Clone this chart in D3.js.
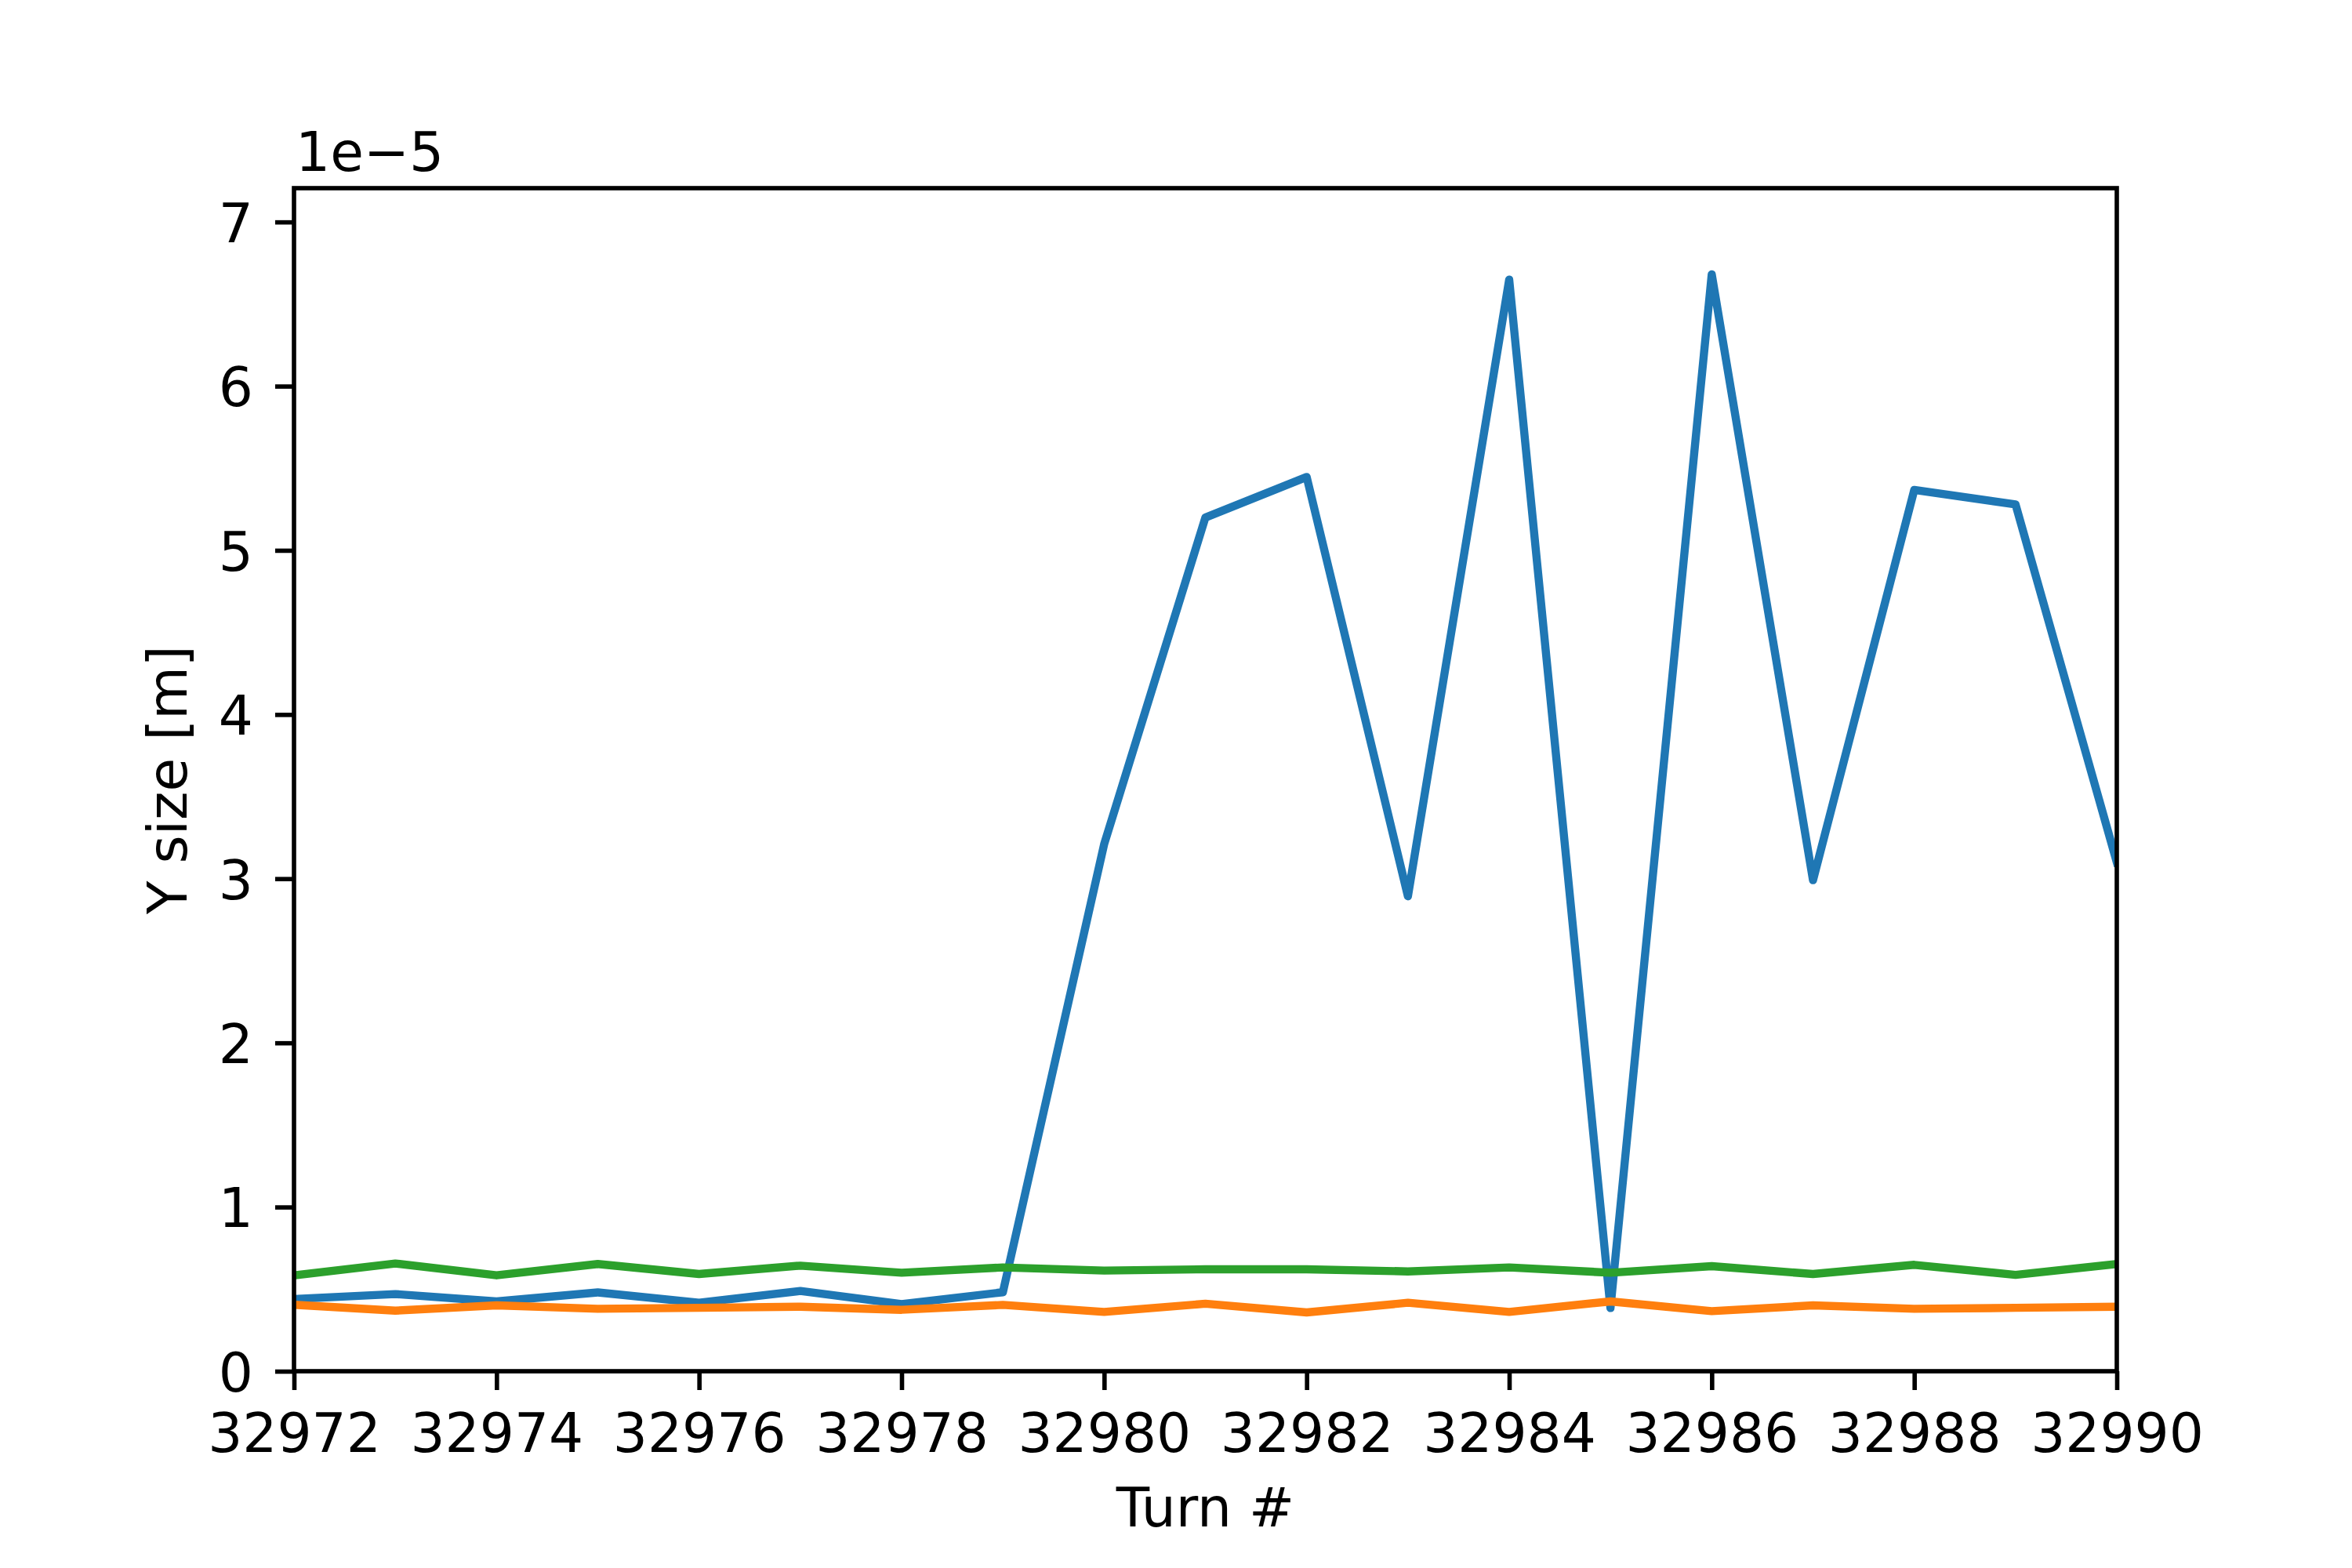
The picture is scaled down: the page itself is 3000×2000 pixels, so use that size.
<!DOCTYPE html>
<html>
<head>
<meta charset="utf-8">
<script src="https://cdn.jsdelivr.net/npm/d3@7"></script>
<style>
  body { margin: 0; background: #fff; }
  svg text { font-family: "DejaVu Sans", sans-serif; }
</style>
</head>
<body>
<div id="chart"></div>
<script>
// turn numbers
const turns = [32972, 32973, 32974, 32975, 32976, 32977, 32978, 32979, 32980, 32981,
               32982, 32983, 32984, 32985, 32986, 32987, 32988, 32989, 32990];

// y size values, in units of 1e-5 m
const sizeBlue = [0.44, 0.47, 0.425, 0.48, 0.417, 0.489, 0.409, 0.481, 3.21, 5.20,
                  5.447, 2.893, 6.649, 0.385, 6.681, 2.991, 5.368, 5.28, 3.10];
const sizeOrange = [0.405, 0.369, 0.401, 0.38, 0.386, 0.393, 0.374, 0.404, 0.361, 0.411,
                    0.358, 0.417, 0.361, 0.425, 0.366, 0.401, 0.38, 0.386, 0.393];
const sizeGreen = [0.584, 0.656, 0.584, 0.653, 0.592, 0.643, 0.600, 0.632, 0.613, 0.621,
                   0.621, 0.608, 0.632, 0.600, 0.640, 0.592, 0.648, 0.587, 0.653];

const xTicks = [32972, 32974, 32976, 32978, 32980, 32982, 32984, 32986, 32988, 32990];
const yTicks = [0, 1, 2, 3, 4, 5, 6, 7];

const seriesColors = ["#1f77b4", "#ff7f0e", "#2ca02c"];
const allSeries = [sizeBlue, sizeOrange, sizeGreen];

const W = 3000, H = 2000;
const margin = {top: 240, right: 300, bottom: 251, left: 375};
const width = W - margin.left - margin.right;
const height = H - margin.top - margin.bottom;
const fontSize = 69.4;
const lw = 5.6;

const svg = d3.select("#chart").append("svg")
  .attr("width", W)
  .attr("height", H);

const g = svg.append("g")
  .attr("transform", `translate(${margin.left},${margin.top})`);

const x = d3.scaleLinear().domain([32972, 32990]).range([0, width]);
const y = d3.scaleLinear().domain([0, 7.206]).range([height, 0]);

svg.append("defs").append("clipPath").attr("id", "plotclip")
  .append("rect").attr("width", width).attr("height", height);

// lines
const line = d3.line()
  .x((d, i) => x(turns[i]))
  .y(d => y(d));

const plot = g.append("g").attr("clip-path", "url(#plotclip)");
allSeries.forEach((vals, k) => {
  plot.append("path")
    .datum(vals)
    .attr("d", line)
    .attr("fill", "none")
    .attr("stroke", seriesColors[k])
    .attr("stroke-width", 10.4)
    .attr("stroke-linejoin", "round")
    .attr("stroke-linecap", "square");
});

// x axis
const xAxis = g.append("g")
  .attr("transform", `translate(0,${height})`)
  .call(d3.axisBottom(x).tickValues(xTicks).tickFormat(d3.format("d"))
    .tickSize(24).tickSizeOuter(0).tickPadding(30));

// y axis
const yAxis = g.append("g")
  .call(d3.axisLeft(y).tickValues(yTicks).tickFormat(d3.format("d"))
    .tickSize(24).tickSizeOuter(0).tickPadding(28));

[xAxis, yAxis].forEach(ax => {
  ax.select(".domain").remove();
  ax.selectAll(".tick line").attr("stroke", "#000").attr("stroke-width", lw);
  ax.selectAll(".tick text")
    .attr("fill", "#000")
    .style("font-size", fontSize + "px")
    .style("font-family", "'DejaVu Sans', sans-serif");
});
yAxis.selectAll(".tick text").attr("dy", "0.365em");

// frame
g.append("rect")
  .attr("width", width)
  .attr("height", height)
  .attr("fill", "none")
  .attr("stroke", "#000")
  .attr("stroke-width", lw);

// offset text
g.append("text")
  .attr("x", 2)
  .attr("y", -22)
  .style("font-size", fontSize + "px")
  .text("1e\u22125");

// axis labels
g.append("text")
  .attr("x", width / 2)
  .attr("y", height + 198)
  .attr("text-anchor", "middle")
  .style("font-size", fontSize + "px")
  .text("Turn #");

g.append("text")
  .attr("transform", `translate(${238 - margin.left},${height / 2}) rotate(-90)`)
  .attr("text-anchor", "middle")
  .style("font-size", fontSize + "px")
  .text("Y size [m]");
</script>
</body>
</html>
